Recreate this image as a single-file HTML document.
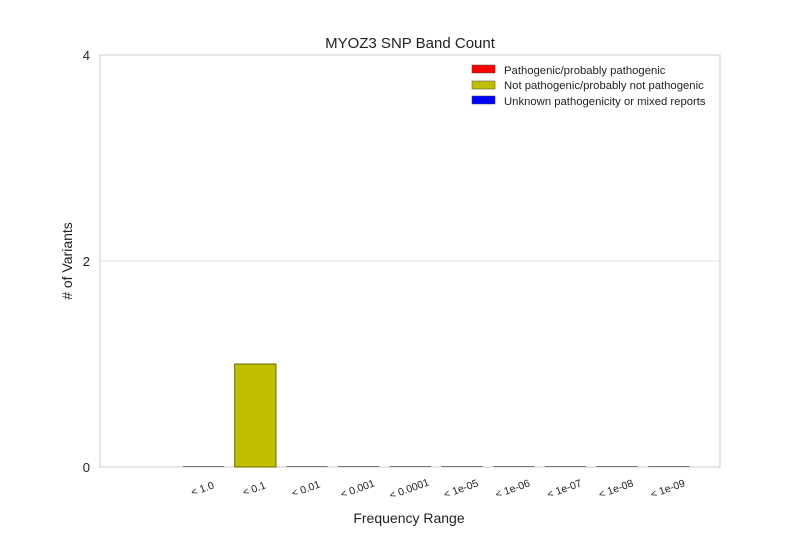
<!DOCTYPE html>
<html><head><meta charset="utf-8"><style>
body{margin:0;background:#fff;}
svg text{font-family:"Liberation Sans",Arial,sans-serif;}
</style></head><body>
<svg id="chart" width="800" height="550" viewBox="0 0 800 550">
<rect x="0" y="0" width="800" height="550" fill="#fff"/>
<text x="410" y="48" font-size="15" text-anchor="middle" fill="#222">MYOZ3 SNP Band Count</text>
<g id="grid"></g>
<rect x="100" y="55" width="620" height="412" fill="none" stroke="#ccc" stroke-width="1"/>
<g id="bars"></g>
<g id="ticks"></g>
<text x="409" y="523" font-size="14" text-anchor="middle" fill="#222">Frequency Range</text>
<text transform="translate(72,261) rotate(-90)" font-size="14" text-anchor="middle" fill="#222"># of Variants</text>
<g>
<g>
<rect x="472" y="65" width="23" height="8" fill="#ff0000" stroke="#444" stroke-width="0.5"/>
<text x="504" y="74" font-size="11.3" fill="#222">Pathogenic/probably pathogenic</text></g>
<g>
<rect x="472" y="81" width="23" height="8" fill="#bfbf00" stroke="#444" stroke-width="0.5"/>
<text x="504" y="89" font-size="11.3" fill="#222">Not pathogenic/probably not pathogenic</text></g>
<g>
<rect x="472" y="96" width="23" height="8" fill="#0000ff" stroke="#444" stroke-width="0.5"/>
<text x="504" y="105" font-size="11.3" fill="#222">Unknown pathogenicity or mixed reports</text></g>
</g>
</svg>
<script>
const categories = ["< 1.0","< 0.1","< 0.01","< 0.001","< 0.0001","< 1e-05","< 1e-06","< 1e-07","< 1e-08","< 1e-09"];
const pathogenic = [0,0,0,0,0,0,0,0,0,0];
const notPathogenic = [0,1,0,0,0,0,0,0,0,0];
const unknown = [0,0,0,0,0,0,0,0,0,0];
const yTicks = [0,2,4];

const NS="http://www.w3.org/2000/svg";
const x0=100,x1=720,y0=467,y1=55;
const xMin=-1.605,xMax=10.39,yMax=4;
const slot=(x1-x0)/(xMax-xMin);
function xs(v){return x0+(v-xMin)*slot;}
function ys(v){return y0-(v/yMax)*(y0-y1);}
function mk(tag,attrs,parent){const e=document.createElementNS(NS,tag);for(const k in attrs)e.setAttribute(k,attrs[k]);parent.appendChild(e);return e;}
const grid=document.getElementById('grid'),bars=document.getElementById('bars'),ticks=document.getElementById('ticks');
yTicks.forEach(t=>{
  const l=mk('line',{x1:x0,x2:x1,y1:ys(t),y2:ys(t),stroke:'#e5e5e5','stroke-width':1},grid);
  
  
  const tx=mk('text',{x:x0-10,y:ys(t)+5,'font-size':13,'text-anchor':'end',fill:'#222'},ticks);
  tx.textContent=t;
  
  
});
const bw=0.8;
categories.forEach((c,i)=>{
  let base=0;
  [[pathogenic,'#ff0000'],[notPathogenic,'#bfbf00'],[unknown,'#0000ff']].forEach(([arr,col])=>{
    const v=arr[i];
    if(v>0){
      const r=mk('rect',{x:xs(i),y:ys(base+v),width:bw*slot,height:ys(base)-ys(base+v),fill:col,stroke:'#6b6b00','stroke-width':1},bars);
      
      
      base+=v;
    }
  });
  if(base===0){
    const l=mk('line',{x1:xs(i),x2:xs(i+bw),y1:y0-0.5,y2:y0-0.5,stroke:'#777','stroke-width':1},bars);
    
    
  }
  const cx=xs(i+bw/2);
  const tx=mk('text',{x:0,y:0,'font-size':10.5,'text-anchor':'middle',fill:'#222',transform:`translate(${cx},${y0+25}) rotate(-20)`},ticks);
  tx.textContent=c;
  
  
});
</script>
</body></html>
